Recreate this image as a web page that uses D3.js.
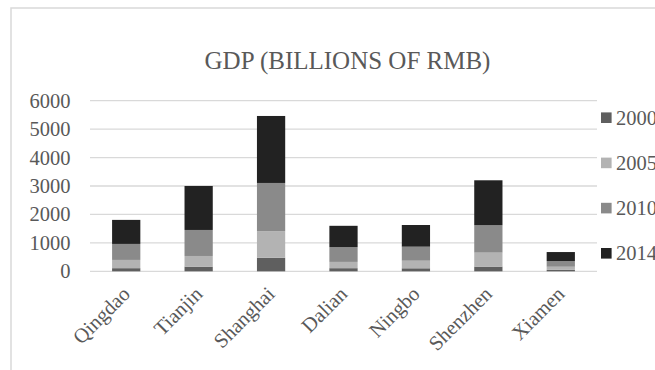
<!DOCTYPE html>
<html>
<head>
<meta charset="utf-8">
<script src="https://cdn.jsdelivr.net/npm/d3@7"></script>
<style>
  html, body { margin: 0; padding: 0; background: #fff; }
  svg { display: block; }
  text { font-family: "Liberation Serif", "Times New Roman", serif; fill: #595959; }
</style>
</head>
<body>
<svg id="chart" width="655" height="370"></svg>
<script>
// GDP by city, billions of RMB
const cities = ["Qingdao", "Tianjin", "Shanghai", "Dalian", "Ningbo", "Shenzhen", "Xiamen"];
const years = ["2000", "2005", "2010", "2014"];
const gdp2000 = [110, 164, 477, 110, 106, 165, 50];
const gdp2005 = [290, 375, 930, 220, 267, 492, 110];
const gdp2010 = [563, 915, 1700, 520, 493, 964, 200];
const gdp2014 = [845, 1547, 2356, 750, 762, 1580, 317];
const yTicks = [0, 1000, 2000, 3000, 4000, 5000, 6000];
const colors = ["#5f5f5f", "#b3b3b3", "#8a8a8a", "#222222"];

const rows = cities.map((c, i) => ({
  city: c,
  "2000": gdp2000[i], "2005": gdp2005[i], "2010": gdp2010[i], "2014": gdp2014[i]
}));

const svg = d3.select("#chart");

// chart area frame
svg.append("rect")
  .attr("x", 11).attr("y", 8).attr("width", 700).attr("height", 400)
  .attr("fill", "none").attr("stroke", "#d9d9d9").attr("stroke-width", 1.5);

const plotLeft = 90, plotRight = 597, plotTop = 100.7, plotBottom = 271.3;

const x = d3.scaleBand().domain(cities).range([plotLeft, plotRight])
  .paddingInner(0.61).paddingOuter(0.305);
const y = d3.scaleLinear().domain([0, 6000]).range([plotBottom, plotTop]);

// gridlines
svg.append("g").selectAll("line").data(yTicks).join("line")
  .attr("x1", plotLeft).attr("x2", plotRight)
  .attr("y1", d => y(d)).attr("y2", d => y(d))
  .attr("stroke", "#d9d9d9").attr("stroke-width", 1.3);

// y axis labels
const yAxis = svg.append("g").attr("transform", `translate(${plotLeft},0)`)
  .call(d3.axisLeft(y).tickValues(yTicks).tickSize(0).tickPadding(19.5).tickFormat(d3.format("d")));
yAxis.select(".domain").remove();
yAxis.selectAll("text").style("font-size", "20.5px").attr("fill", "#595959")
  .style("font-family", "Liberation Serif");

// stacked bars
const series = d3.stack().keys(years)(rows);
svg.append("g").selectAll("g").data(series).join("g")
  .attr("fill", (d, i) => colors[i])
  .selectAll("rect").data(d => d).join("rect")
  .attr("x", d => x(d.data.city))
  .attr("width", x.bandwidth())
  .attr("y", d => y(d[1]))
  .attr("height", d => y(d[0]) - y(d[1]));

// x axis labels, rotated
svg.append("g").selectAll("text").data(cities).join("text")
  .attr("transform", d => `translate(${x(d) + x.bandwidth() / 2 + 5},${plotBottom + 24}) rotate(-45)`)
  .attr("text-anchor", "end")
  .style("font-size", "20.5px")
  .text(d => d);

// title
svg.append("text")
  .attr("x", 347.5).attr("y", 68.5)
  .attr("text-anchor", "middle")
  .style("font-size", "25px")
  .text("GDP (BILLIONS OF RMB)");

// legend
const legend = svg.append("g").selectAll("g").data(years).join("g")
  .attr("transform", (d, i) => `translate(601,${117.7 + i * 45.2})`);
legend.append("rect")
  .attr("x", 0).attr("y", -5.3).attr("width", 10.6).attr("height", 10.6)
  .attr("fill", (d, i) => colors[i]);
legend.append("text")
  .attr("x", 15).attr("y", 7)
  .style("font-size", "20.5px")
  .text(d => d);
</script>
</body>
</html>
